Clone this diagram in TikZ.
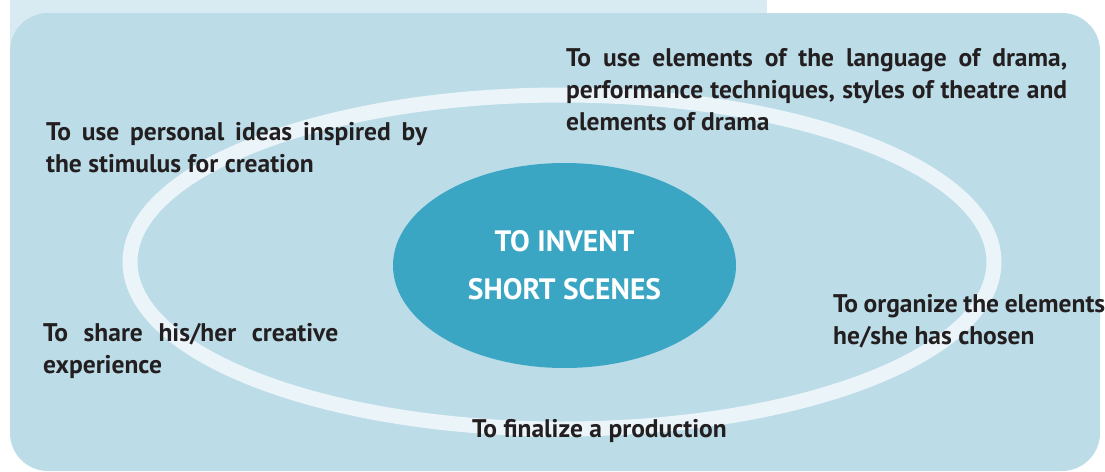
\documentclass[tikz,border=0pt]{standalone}
\usepackage{fontspec}
\setmainfont{PT Sans}
\usepackage{tikz}
\usetikzlibrary{shapes.geometric}
\definecolor{bandcolor}{RGB}{217,235,242}
\definecolor{panelcolor}{RGB}{188,220,232}
\definecolor{ringcolor}{RGB}{235,245,249}
\definecolor{corecolor}{RGB}{58,166,196}
\definecolor{inkcolor}{RGB}{35,31,32}

\begin{document}
\begin{tikzpicture}[
    x=1pt, y=-1pt,
    goal/.style={
        anchor=base west, inner sep=0pt,
        align=justify, text=inkcolor,
        font=\bfseries\fontsize{25.5}{32}\selectfont
    },
    ring/.style={draw=ringcolor, line width=15pt}
]
\useasboundingbox (0,0) rectangle (1105,471);

% Background panel
\fill[bandcolor] (10,0) rectangle (767,60);
\fill[panelcolor, rounded corners=38pt] (10,13) rectangle (1100,471);

% Outer ring
\draw[ring] (562,262) ellipse [x radius=432, y radius=167];

% Central goal
\node[ellipse, fill=corecolor, inner sep=0pt,
      minimum width=343pt, minimum height=205pt,
      align=center, text=white,
      font=\bfseries\fontsize{29.5}{48}\selectfont] (core) at (564.5,265.5)
      {TO INVENT\\SHORT SCENES};

% Surrounding steps
\node[goal, text width=501pt] (elements) at (566,66)
    {To use elements of the language of drama,\linebreak performance techniques, styles of theatre and\linebreak elements of drama};
\node[goal, text width=381pt] (ideas) at (46,140)
    {To use personal ideas inspired by\linebreak the stimulus for creation};
\node[goal, text width=272pt] (organize) at (833,312)
    {To organize the elements\linebreak he/she has chosen};
\node[goal, text width=295pt] (share) at (43,341)
    {To share his/her creative\linebreak experience};
\node[goal] (finalize) at (472,437) {To finalize a production};

\end{tikzpicture}
\end{document}
